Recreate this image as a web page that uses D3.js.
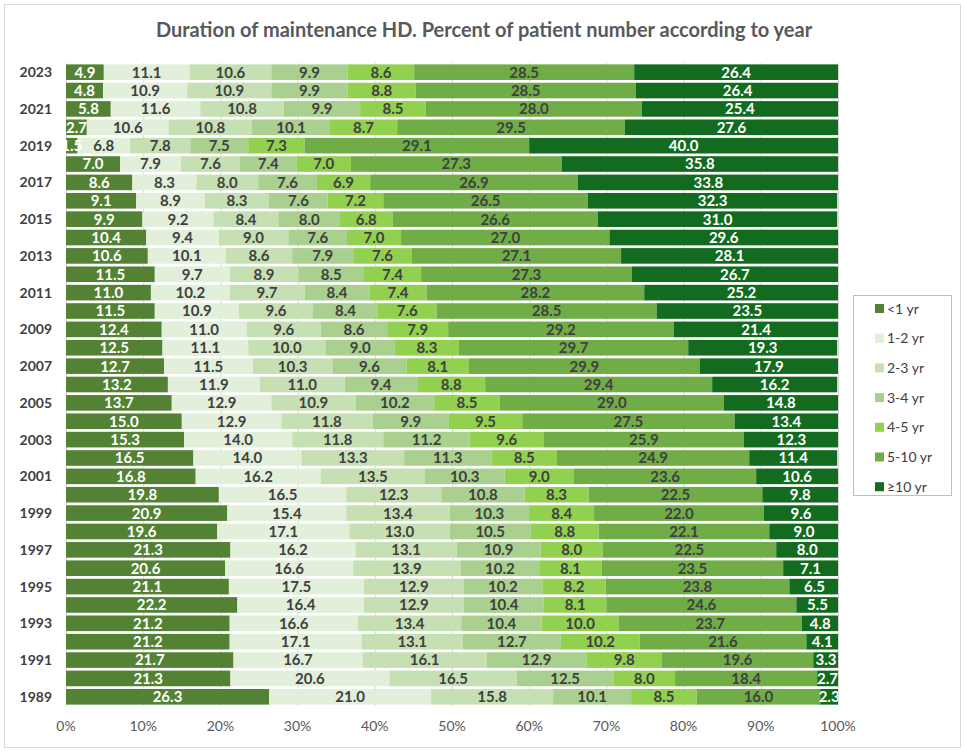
<!DOCTYPE html>
<html>
<head>
<meta charset="utf-8">
<script src="https://cdn.jsdelivr.net/npm/d3@7/dist/d3.min.js"></script>
<style>
  html, body { margin: 0; padding: 0; background: #fff; }
  svg { display: block; font-family: Lato, "Open Sans", sans-serif; }
</style>
</head>
<body>
<svg id="chart" width="965" height="752"></svg>
<script>
// Years, newest first (top row of the chart)
const years = [2023, 2022, 2021, 2020, 2019, 2018, 2017, 2016, 2015, 2014, 2013, 2012,
  2011, 2010, 2009, 2008, 2007, 2006, 2005, 2004, 2003, 2002, 2001, 2000, 1999, 1998,
  1997, 1996, 1995, 1994, 1993, 1992, 1991, 1990, 1989];

const groups = ["<1 yr", "1-2 yr", "2-3 yr", "3-4 yr", "4-5 yr", "5-10 yr", "≥10 yr"];

// Percent of patients per duration group, one array per group, in the order of `years`
const lt1 = [4.9, 4.8, 5.8, 2.7, 1.5, 7.0, 8.6, 9.1, 9.9, 10.4, 10.6, 11.5, 11.0, 11.5, 12.4, 12.5,
  12.7, 13.2, 13.7, 15.0, 15.3, 16.5, 16.8, 19.8, 20.9, 19.6, 21.3, 20.6, 21.1, 22.2, 21.2, 21.2,
  21.7, 21.3, 26.3];
const y1to2 = [11.1, 10.9, 11.6, 10.6, 6.8, 7.9, 8.3, 8.9, 9.2, 9.4, 10.1, 9.7, 10.2, 10.9, 11.0, 11.1,
  11.5, 11.9, 12.9, 12.9, 14.0, 14.0, 16.2, 16.5, 15.4, 17.1, 16.2, 16.6, 17.5, 16.4, 16.6, 17.1,
  16.7, 20.6, 21.0];
const y2to3 = [10.6, 10.9, 10.8, 10.8, 7.8, 7.6, 8.0, 8.3, 8.4, 9.0, 8.6, 8.9, 9.7, 9.6, 9.6, 10.0,
  10.3, 11.0, 10.9, 11.8, 11.8, 13.3, 13.5, 12.3, 13.4, 13.0, 13.1, 13.9, 12.9, 12.9, 13.4, 13.1,
  16.1, 16.5, 15.8];
const y3to4 = [9.9, 9.9, 9.9, 10.1, 7.5, 7.4, 7.6, 7.6, 8.0, 7.6, 7.9, 8.5, 8.4, 8.4, 8.6, 9.0,
  9.6, 9.4, 10.2, 9.9, 11.2, 11.3, 10.3, 10.8, 10.3, 10.5, 10.9, 10.2, 10.2, 10.4, 10.4, 12.7,
  12.9, 12.5, 10.1];
const y4to5 = [8.6, 8.8, 8.5, 8.7, 7.3, 7.0, 6.9, 7.2, 6.8, 7.0, 7.6, 7.4, 7.4, 7.6, 7.9, 8.3,
  8.1, 8.8, 8.5, 9.5, 9.6, 8.5, 9.0, 8.3, 8.4, 8.8, 8.0, 8.1, 8.2, 8.1, 10.0, 10.2,
  9.8, 8.0, 8.5];
const y5to10 = [28.5, 28.5, 28.0, 29.5, 29.1, 27.3, 26.9, 26.5, 26.6, 27.0, 27.1, 27.3, 28.2, 28.5, 29.2, 29.7,
  29.9, 29.4, 29.0, 27.5, 25.9, 24.9, 23.6, 22.5, 22.0, 22.1, 22.5, 23.5, 23.8, 24.6, 23.7, 21.6,
  19.6, 18.4, 16.0];
const ge10 = [26.4, 26.4, 25.4, 27.6, 40.0, 35.8, 33.8, 32.3, 31.0, 29.6, 28.1, 26.7, 25.2, 23.5, 21.4, 19.3,
  17.9, 16.2, 14.8, 13.4, 12.3, 11.4, 10.6, 9.8, 9.6, 9.0, 8.0, 7.1, 6.5, 5.5, 4.8, 4.1,
  3.3, 2.7, 2.3];

const xTicks = [0, 10, 20, 30, 40, 50, 60, 70, 80, 90, 100];

const colors = ["#548235", "#E2EFDA", "#C6E0B4", "#A9D08E", "#92D050", "#70AD47", "#136B1F"];
const labelColors = ["#ffffff", "#404040", "#404040", "#404040", "#404040", "#404040", "#ffffff"];

const series = [lt1, y1to2, y2to3, y3to4, y4to5, y5to10, ge10];
const rows = years.map((yr, i) => {
  const r = { year: yr };
  groups.forEach((g, k) => { r[g] = series[k][i]; });
  return r;
});

const svg = d3.select("#chart");
const W = 965, H = 752;
const plot = { left: 66, right: 838, top: 63, bottom: 706 };

// outer chart frame
svg.append("rect")
  .attr("x", 4.5).attr("y", 4.5).attr("width", W - 9).attr("height", H - 9)
  .attr("fill", "#fff").attr("stroke", "#d9d9d9").attr("stroke-width", 1);

svg.append("text")
  .attr("x", 484).attr("y", 37)
  .attr("text-anchor", "middle")
  .attr("fill", "#595959")
  .attr("font-size", 20).attr("font-weight", 700)
  .text("Duration of maintenance HD. Percent of patient number according to year");

const x = d3.scaleLinear().domain([0, 100]).range([plot.left, plot.right]);
const y = d3.scaleBand().domain(years).range([plot.top, plot.bottom])
  .paddingInner(0.15).paddingOuter(0.075);

// vertical gridlines
svg.append("g").selectAll("line").data(xTicks).join("line")
  .attr("x1", d => x(d) + 0.5).attr("x2", d => x(d) + 0.5)
  .attr("y1", plot.top).attr("y2", plot.bottom)
  .attr("stroke", "#d9d9d9").attr("stroke-width", 1);

const stack = d3.stack().keys(groups);
const stacked = stack(rows);

svg.append("defs").append("clipPath").attr("id", "plotClip")
  .append("rect").attr("x", plot.left).attr("y", plot.top)
  .attr("width", plot.right - plot.left).attr("height", plot.bottom - plot.top);

// stacked segments, kept inside the 0–100% plot area
const layers = svg.append("g").attr("clip-path", "url(#plotClip)")
  .selectAll("g").data(stacked).join("g")
  .attr("fill", (d, i) => colors[i]);

layers.selectAll("rect").data(d => d).join("rect")
  .attr("x", d => x(d[0]))
  .attr("y", d => y(d.data.year))
  .attr("width", d => Math.max(0, x(d[1]) - x(d[0])))
  .attr("height", y.bandwidth());

// value labels, centred in each segment
const labels = svg.append("g").attr("clip-path", "url(#plotClip)");
stacked.forEach((layer, i) => {
  labels.append("g").selectAll("text").data(layer).join("text")
    .attr("x", d => x((d[0] + d[1]) / 2))
    .attr("y", d => y(d.data.year) + y.bandwidth() / 2)
    .attr("dy", "0.36em")
    .attr("text-anchor", "middle")
    .attr("font-size", 15).attr("font-weight", 700)
    .attr("fill", labelColors[i])
    .text(d => d3.format(".1f")(d.data[layer.key]));
});

// y axis labels: every other year
svg.append("g").selectAll("text").data(years.filter(yr => yr % 2 === 1)).join("text")
  .attr("x", 52).attr("y", d => y(d) + y.bandwidth() / 2)
  .attr("dy", "0.36em").attr("text-anchor", "end")
  .attr("font-size", 14).attr("font-weight", 700).attr("fill", "#404040")
  .text(d => d);

// x axis labels
svg.append("g").selectAll("text").data(xTicks).join("text")
  .attr("x", d => x(d)).attr("y", 726).attr("dy", "0.36em")
  .attr("text-anchor", "middle")
  .attr("font-size", 14).attr("fill", "#595959")
  .text(d => d + "%");

// legend
const lg = svg.append("g");
lg.append("rect").attr("x", 853.5).attr("y", 295.5).attr("width", 98).attr("height", 200)
  .attr("fill", "#fff").attr("stroke", "#bfbfbf");
const item = lg.selectAll("g").data(groups).join("g")
  .attr("transform", (d, i) => `translate(875, ${308.5 + i * 29.7})`);
item.append("rect").attr("x", 0).attr("y", -4.5).attr("width", 9).attr("height", 9)
  .attr("fill", (d, i) => colors[i]);
item.append("text").attr("x", 12).attr("y", 0).attr("dy", "0.36em")
  .attr("font-size", 14).attr("fill", "#404040")
  .text(d => d);
</script>
</body>
</html>
